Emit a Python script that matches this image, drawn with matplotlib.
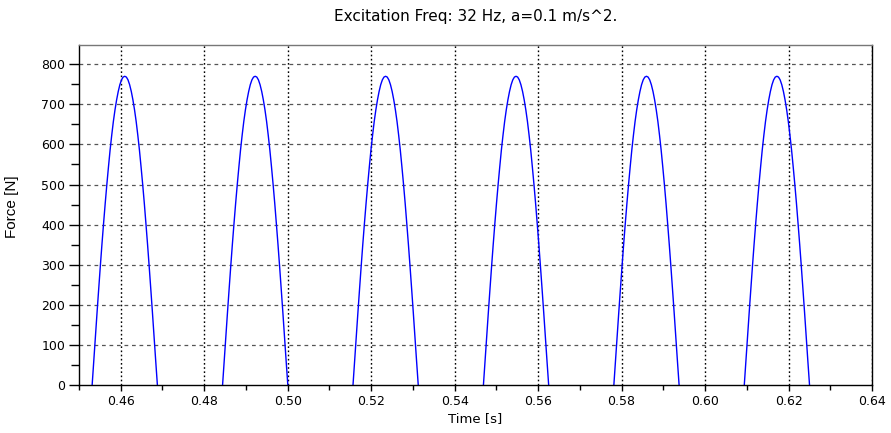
import matplotlib
matplotlib.use('Agg')
import matplotlib.pyplot as plt
from matplotlib.ticker import MultipleLocator

# 每个脉冲的起始时间 [s]
pulse_starts = [0.45315, 0.48440, 0.51565, 0.54690, 0.57815, 0.60940]
# 单个脉冲内的时间偏移 [s]（半个周期，1/64 s）
pulse_offsets = [0.0, 0.00039, 0.00078, 0.00117, 0.00156, 0.00195, 0.00234,
                 0.00273, 0.00313, 0.00352, 0.00391, 0.00430, 0.00469,
                 0.00508, 0.00547, 0.00586, 0.00625, 0.00664, 0.00703,
                 0.00742, 0.00781, 0.00820, 0.00859, 0.00898, 0.00938,
                 0.00977, 0.01016, 0.01055, 0.01094, 0.01133, 0.01172,
                 0.01211, 0.01250, 0.01289, 0.01328, 0.01367, 0.01406,
                 0.01445, 0.01484, 0.01523, 0.01563]
# 脉冲内的力 [N]
pulse_force = [0, 60, 120, 180, 238, 295, 350, 402, 453, 500, 544,
               586, 623, 657, 686, 711, 732, 749, 761, 768, 770,
               768, 761, 749, 732, 711, 686, 657, 623, 586, 544,
               500, 453, 402, 350, 295, 238, 180, 120, 60, 0]

x_ticks = [0.46, 0.48, 0.50, 0.52, 0.54, 0.56, 0.58, 0.60, 0.62, 0.64]
y_ticks = [0, 100, 200, 300, 400, 500, 600, 700, 800]

plt.rcParams['font.family'] = ['DejaVu Sans']

fig = plt.figure(figsize=(8.91, 4.33), dpi=100)
ax = fig.add_axes([79 / 891, 1 - 385 / 433, (872 - 79) / 891, (385 - 45) / 433])

# 每个脉冲单独画，脉冲之间力为 0（与底边重合）
for t0 in pulse_starts:
    ax.plot([t0 + dt for dt in pulse_offsets], pulse_force,
            color='#0000ff', lw=1.0, zorder=2)

ax.set_xlim(0.45, 0.64)
ax.set_ylim(0, 848)
ax.set_xticks(x_ticks)
ax.set_xticklabels([f'{v:.2f}' for v in x_ticks])
ax.set_yticks(y_ticks)
ax.xaxis.set_minor_locator(MultipleLocator(0.01))
ax.yaxis.set_minor_locator(MultipleLocator(50))

# 网格：竖线点线，横线虚线
for v in x_ticks:
    ax.axvline(v, color='black', ls=(0, (1.2, 1.8)), lw=1.0, zorder=1)
for v in y_ticks[1:]:
    ax.axhline(v, color='#555555', ls=(0, (3, 3)), lw=0.9, zorder=1)

ax.tick_params(axis='x', which='major', direction='out', length=4.3, width=1.0,
               labelsize=9, pad=3)
ax.tick_params(axis='x', which='minor', direction='out', length=3.6, width=1.0)
ax.tick_params(axis='y', which='major', direction='out', length=7, width=1.0,
               labelsize=9, pad=3)
ax.tick_params(axis='y', which='minor', direction='out', length=5.8, width=1.0)
ax.tick_params(which='both', top=False, right=False)

ax.spines['left'].set_color('black')
ax.spines['bottom'].set_color('black')
ax.spines['right'].set_color('black')
ax.spines['top'].set_color('#777777')
for s in ax.spines.values():
    s.set_linewidth(1.0)
    s.set_zorder(3)

ax.set_xlabel('Time [s]', fontsize=9.5, labelpad=3)
ax.set_ylabel('Force [N]', fontsize=11, family=['Liberation Sans'])
ax.yaxis.set_label_coords(-0.076, 0.525)
ax.set_title('Excitation Freq: 32 Hz, a=0.1 m/s^2.', fontsize=11, pad=17)

fig.savefig('out.png', dpi=100)
